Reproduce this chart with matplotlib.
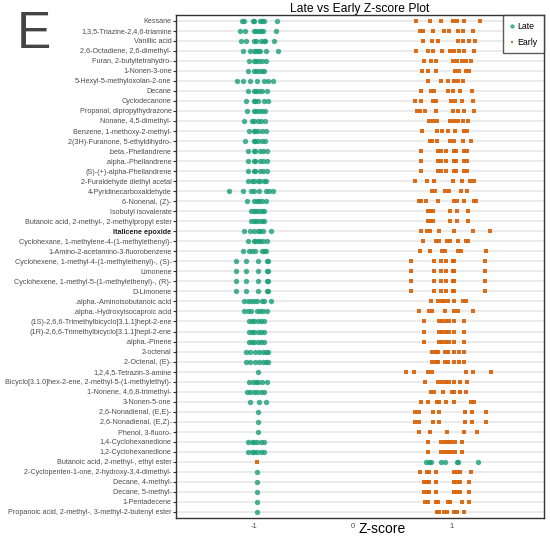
import matplotlib
matplotlib.use("Agg")
import matplotlib.pyplot as plt
import numpy as np

compounds = [
    "Kessane",
    "1,3,5-Triazine-2,4,6-triamine",
    "Vanillic acid",
    "2,6-Octadiene, 2,6-dimethyl-",
    "Furan, 2-butyltetrahydro-",
    "1-Nonen-3-one",
    "5-Hexyl-5-methyloxolan-2-one",
    "Decane",
    "Cyclodecanone",
    "Propanal, dipropylhydrazone",
    "Nonane, 4,5-dimethyl-",
    "Benzene, 1-methoxy-2-methyl-",
    "2(3H)-Furanone, 5-ethyldihydro-",
    ".beta.-Phellandrene",
    ".alpha.-Phellandrene",
    "(S)-(+)-alpha-Phellandrene",
    "2-Furaldehyde diethyl acetal",
    "4-Pyridinecarboxaldehyde",
    "6-Nonenal, (Z)-",
    "Isobutyl isovalerate",
    "Butanoic acid, 2-methyl-, 2-methylpropyl ester",
    "Italicene epoxide",
    "Cyclohexane, 1-methylene-4-(1-methylethenyl)-",
    "1-Amino-2-acetamino-3-fluorobenzene",
    "Cyclohexene, 1-methyl-4-(1-methylethenyl)-, (S)-",
    "Limonene",
    "Cyclohexene, 1-methyl-5-(1-methylethenyl)-, (R)-",
    "D-Limonene",
    ".alpha.-Aminoisobutanoic acid",
    ".alpha.-Hydroxyisocaproic acid",
    "(1S)-2,6,6-Trimethylbicyclo[3.1.1]hept-2-ene",
    "(1R)-2,6,6-Trimethylbicyclo[3.1.1]hept-2-ene",
    ".alpha.-Pinene",
    "2-octenal",
    "2-Octenal, (E)-",
    "1,2,4,5-Tetrazin-3-amine",
    "Bicyclo[3.1.0]hex-2-ene, 2-methyl-5-(1-methylethyl)-",
    "1-Nonene, 4,6,8-trimethyl-",
    "3-Nonen-5-one",
    "2,6-Nonadienal, (E,E)-",
    "2,6-Nonadienal, (E,Z)-",
    "Phenol, 3-fluoro-",
    "1,4-Cyclohexanedione",
    "1,2-Cyclohexanedione",
    "Butanoic acid, 2-methyl-, ethyl ester",
    "2-Cyclopenten-1-one, 2-hydroxy-3,4-dimethyl-",
    "Decane, 4-methyl-",
    "Decane, 5-methyl-",
    "1-Pentadecene",
    "Propanoic acid, 2-methyl-, 3-methyl-2-butenyl ester",
]

late_z = [
    [-1.13, -1.11, -1.02, -1.00, -0.94, -0.92, -0.90, -0.77],
    [-1.15, -1.10, -1.00, -0.98, -0.95, -0.93, -0.91, -0.78],
    [-1.14, -1.09, -1.01, -0.98, -0.93, -0.90, -0.89, -0.80],
    [-1.12, -1.05, -1.00, -0.98, -0.96, -0.94, -0.88, -0.76],
    [-1.06, -1.00, -0.98, -0.95, -0.92, -0.88],
    [-1.07, -1.00, -0.98, -0.95, -0.92, -0.90],
    [-1.18, -1.12, -1.05, -0.97, -0.90, -0.86, -0.81],
    [-1.07, -1.00, -0.98, -0.95, -0.92, -0.87],
    [-1.09, -1.01, -0.99, -0.96, -0.90, -0.86],
    [-1.08, -1.00, -0.98, -0.95, -0.92, -0.89],
    [-1.11, -1.03, -1.00, -0.96, -0.93, -0.89],
    [-1.06, -1.01, -0.99, -0.96, -0.92, -0.88],
    [-1.10, -1.01, -0.99, -0.96, -0.92, -0.89],
    [-1.07, -1.01, -0.99, -0.94, -0.91, -0.87],
    [-1.07, -1.01, -0.99, -0.94, -0.91, -0.87],
    [-1.07, -1.01, -0.99, -0.94, -0.91, -0.87],
    [-1.07, -1.03, -1.00, -0.96, -0.94, -0.90, -0.88],
    [-1.26, -1.12, -1.04, -1.01, -0.95, -0.88, -0.85, -0.81],
    [-1.08, -1.00, -0.97, -0.95, -0.92, -0.88],
    [-1.04, -1.00, -0.98, -0.95, -0.92, -0.90],
    [-1.04, -1.00, -0.98, -0.95, -0.92, -0.90],
    [-1.11, -1.05, -1.01, -0.96, -0.94, -0.91, -0.83],
    [-1.07, -1.01, -0.99, -0.96, -0.94, -0.91, -0.87],
    [-1.12, -1.06, -1.03, -0.99, -0.92, -0.90, -0.88],
    [-1.19, -1.09, -0.96, -0.87, -0.86],
    [-1.19, -1.09, -0.96, -0.87, -0.86],
    [-1.19, -1.09, -0.96, -0.87, -0.86],
    [-1.19, -1.09, -0.96, -0.87, -0.86],
    [-1.11, -1.07, -1.04, -1.00, -0.97, -0.92, -0.90, -0.83],
    [-1.11, -1.07, -1.04, -0.97, -0.94, -0.91, -0.87],
    [-1.06, -1.03, -1.00, -0.96, -0.93, -0.90],
    [-1.06, -1.03, -1.00, -0.96, -0.93, -0.90],
    [-1.06, -1.03, -1.00, -0.96, -0.93, -0.90],
    [-1.09, -1.05, -0.99, -0.95, -0.91, -0.88, -0.86],
    [-1.09, -1.05, -0.99, -0.95, -0.91, -0.88, -0.86],
    [-0.96],
    [-1.06, -1.02, -0.98, -0.96, -0.92, -0.87],
    [-1.08, -1.05, -1.00, -0.97, -0.93, -0.90],
    [-1.05, -0.95, -0.88],
    [-0.96],
    [-0.96],
    [-0.96],
    [-1.07, -1.03, -1.00, -0.97, -0.93, -0.90],
    [-1.07, -1.03, -1.00, -0.97, -0.93, -0.90],
    [0.745, 0.77, 0.79, 0.89, 0.94, 1.06, 1.07, 1.27],
    [-0.97],
    [-0.97],
    [-0.97],
    [-0.97],
    [-0.97],
]

early_z = [
    [0.64, 0.78, 0.89, 1.02, 1.06, 1.13, 1.29],
    [0.68, 0.71, 0.81, 0.92, 0.98, 1.07, 1.12, 1.22],
    [0.71, 0.80, 0.86, 1.07, 1.12, 1.18, 1.24],
    [0.64, 0.76, 0.81, 0.90, 0.99, 1.03, 1.08, 1.13, 1.23],
    [0.72, 0.79, 0.84, 1.02, 1.06, 1.11, 1.15, 1.20],
    [0.70, 0.76, 0.84, 1.04, 1.08, 1.15, 1.18],
    [0.76, 0.89, 0.97, 1.03, 1.07, 1.12],
    [0.69, 0.79, 0.82, 0.97, 1.02, 1.09, 1.21],
    [0.63, 0.69, 0.81, 0.84, 1.00, 1.04, 1.11, 1.22],
    [0.65, 0.68, 0.73, 0.84, 1.02, 1.07, 1.13, 1.23],
    [0.77, 0.81, 0.85, 0.99, 1.03, 1.07, 1.12, 1.17],
    [0.70, 0.85, 0.90, 0.97, 1.04, 1.13, 1.16],
    [0.78, 0.80, 0.85, 0.99, 1.03, 1.12, 1.20],
    [0.69, 0.86, 0.89, 0.95, 1.03, 1.05, 1.13, 1.16],
    [0.69, 0.86, 0.89, 0.95, 1.03, 1.05, 1.13, 1.16],
    [0.69, 0.86, 0.89, 0.95, 1.03, 1.05, 1.13, 1.16],
    [0.63, 0.75, 0.82, 1.02, 1.11, 1.19, 1.23],
    [0.80, 0.83, 0.94, 0.98, 1.10, 1.16],
    [0.67, 0.69, 0.74, 0.86, 1.03, 1.06, 1.13, 1.23, 1.25],
    [0.76, 0.78, 0.81, 0.99, 1.06, 1.17],
    [0.76, 0.78, 0.81, 0.99, 1.06, 1.17],
    [0.69, 0.75, 0.78, 0.87, 1.03, 1.22, 1.39],
    [0.71, 0.84, 0.87, 0.96, 0.99, 1.07, 1.15, 1.17],
    [0.68, 0.78, 0.90, 0.94, 1.07, 1.10, 1.35],
    [0.59, 0.82, 0.89, 0.95, 1.02, 1.03, 1.34],
    [0.59, 0.82, 0.89, 0.95, 1.02, 1.03, 1.34],
    [0.59, 0.82, 0.89, 0.95, 1.02, 1.03, 1.34],
    [0.59, 0.82, 0.89, 0.95, 1.02, 1.03, 1.34],
    [0.79, 0.86, 0.90, 0.92, 0.97, 1.03, 1.12, 1.15],
    [0.67, 0.77, 0.80, 0.94, 1.03, 1.07, 1.22],
    [0.72, 0.87, 0.90, 0.95, 0.98, 1.03, 1.13],
    [0.72, 0.87, 0.90, 0.95, 0.98, 1.03, 1.13],
    [0.72, 0.87, 0.90, 0.95, 0.98, 1.03, 1.13],
    [0.80, 0.84, 0.86, 0.94, 0.97, 1.03, 1.08, 1.13],
    [0.80, 0.84, 0.86, 0.94, 0.97, 1.03, 1.08, 1.13],
    [0.54, 0.62, 0.76, 0.80, 1.15, 1.22, 1.40],
    [0.73, 0.86, 0.90, 0.95, 0.98, 1.03, 1.09, 1.16],
    [0.79, 0.82, 0.91, 1.01, 1.03, 1.09, 1.15],
    [0.69, 0.76, 0.85, 0.87, 0.95, 1.03, 1.20, 1.23],
    [0.63, 0.67, 0.81, 0.87, 1.14, 1.21, 1.35],
    [0.63, 0.67, 0.81, 0.87, 1.14, 1.21, 1.35],
    [0.67, 0.78, 0.96, 1.13, 1.26],
    [0.76, 0.89, 0.93, 0.97, 1.00, 1.04, 1.11],
    [0.76, 0.89, 0.93, 0.97, 1.00, 1.04, 1.11],
    [-0.97],
    [0.68, 0.75, 0.77, 0.84, 1.03, 1.06, 1.09, 1.20],
    [0.72, 0.75, 0.77, 0.84, 1.03, 1.06, 1.09, 1.18],
    [0.72, 0.75, 0.77, 0.84, 1.03, 1.06, 1.09, 1.18],
    [0.73, 0.76, 0.84, 0.86, 0.97, 0.99, 1.11, 1.18],
    [0.85, 0.87, 0.92, 0.96, 1.03, 1.06, 1.13],
]

x_ticks = [-1, 0, 1]
title = "Late vs Early Z-score Plot"
series_names = ["Late", "Early"]
green = "#1b9e77"
orange = "#d95f02"

plt.rcParams["font.family"] = ["Liberation Sans", "DejaVu Sans"]

fig = plt.figure(figsize=(5.5, 5.38), dpi=100)
ax = fig.add_axes([0.3195, 0.0372, 0.6695, 0.9349])

n = len(compounds)
ypos = np.arange(n)[::-1]

for i in range(n):
    ax.axhline(ypos[i], color="#ebebeb", lw=1.4, zorder=0)

lx, ly, ex, ey = [], [], [], []
for i in range(n):
    lx += late_z[i]
    ly += [ypos[i]] * len(late_z[i])
    ex += early_z[i]
    ey += [ypos[i]] * len(early_z[i])

ax.scatter(ex, ey, marker="s", s=7, color=orange, linewidths=0, alpha=0.9,
           label=series_names[1], zorder=3)
ax.scatter(lx, ly, marker="o", s=15, color=green, linewidths=0, alpha=0.8,
           label=series_names[0], zorder=4)

ax.set_xlim(-1.80, 1.94)
ax.set_ylim(-0.6, n - 1 + 0.57)
ax.set_yticks(ypos)
ax.set_yticklabels(compounds, fontsize=5.25, color="#4d4d4d")
for lab in ax.get_yticklabels():
    if lab.get_text() == "Italicene epoxide":
        lab.set_fontweight("bold")
        lab.set_color("#222222")
ax.set_xticks(x_ticks)
ax.set_xticklabels([str(t) for t in x_ticks], fontsize=5.5, color="#4d4d4d")
ax.tick_params(axis="y", length=2, width=0.8, color="#333333", pad=1)
ax.tick_params(axis="x", length=0, pad=3.5)
for sp in ax.spines.values():
    sp.set_color("#333333")
    sp.set_linewidth(1.0)

ax.set_title(title, fontsize=8.7, pad=1)
ax.set_xlabel("Z-score", fontsize=10)
ax.xaxis.set_label_coords(0.56, -0.008)

handles, labels = ax.get_legend_handles_labels()
leg = ax.legend(handles[::-1], labels[::-1], loc="upper right", fontsize=6.3,
                frameon=True, fancybox=False, borderaxespad=0,
                handletextpad=0.3, handlelength=0.6, borderpad=0.75,
                markerscale=0.8, labelspacing=0.8)
leg.get_frame().set_edgecolor("#333333")
leg.get_frame().set_linewidth(1.0)

fig.text(0.030, 0.911, "E", fontsize=37, color="#444444", va="baseline", ha="left")

fig.savefig("out.png", dpi=100)
